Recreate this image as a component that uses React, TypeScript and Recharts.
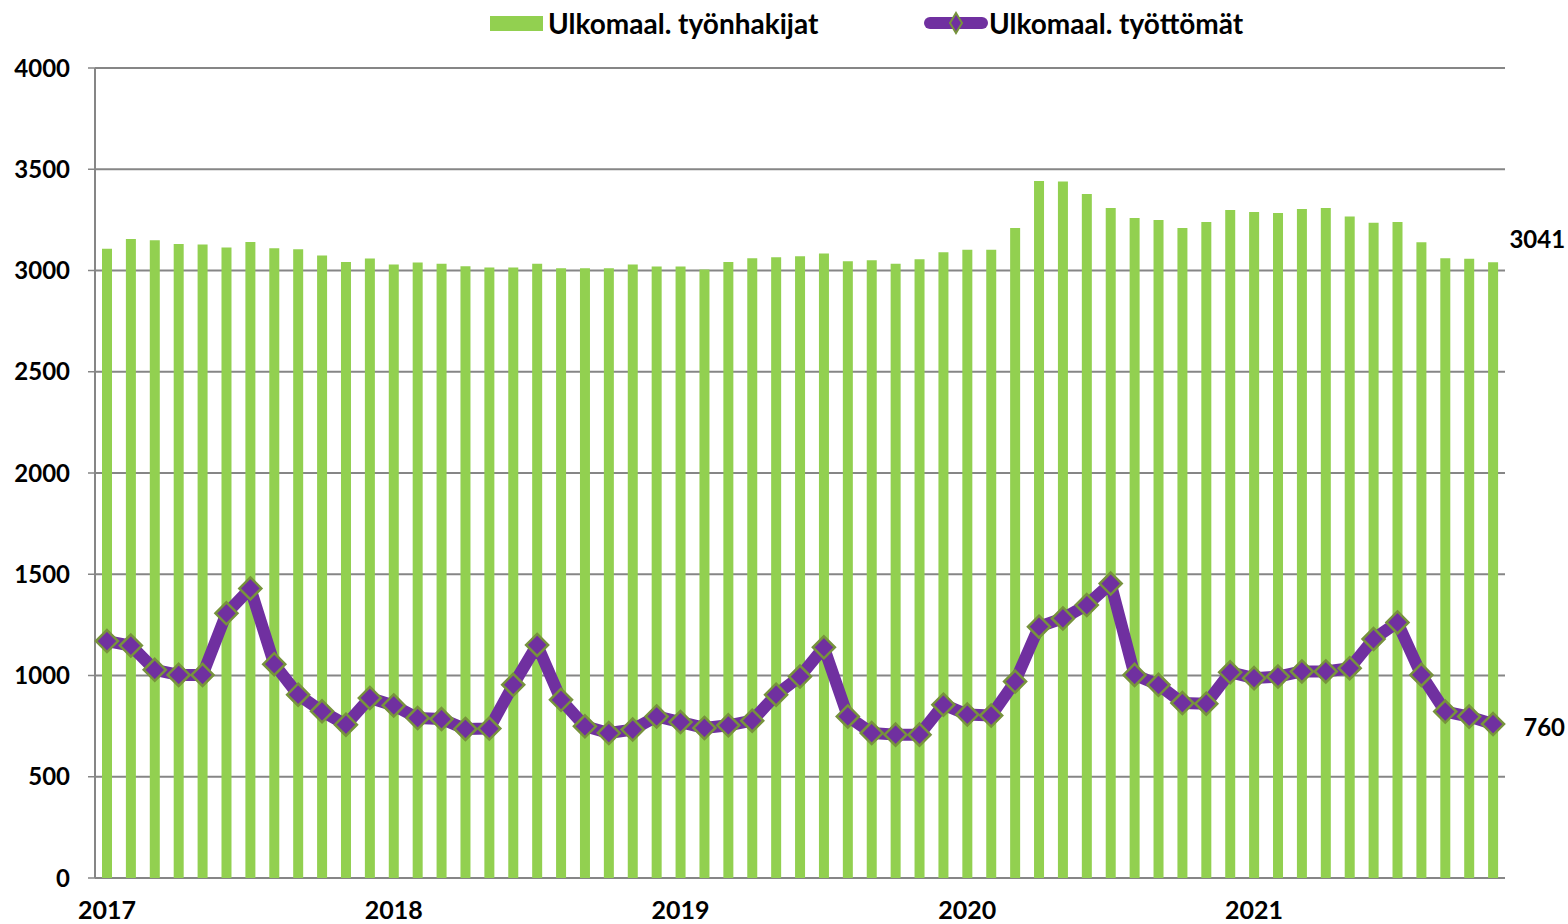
import React from 'react';
import { ComposedChart, Bar, Line, XAxis, YAxis, CartesianGrid, ReferenceLine, LabelList } from 'recharts';

// kuukaudet 1/2017 - 11/2021
const months = [
  '2017-01', '2017-02', '2017-03', '2017-04', '2017-05', '2017-06', '2017-07', '2017-08', '2017-09', '2017-10', '2017-11', '2017-12',
  '2018-01', '2018-02', '2018-03', '2018-04', '2018-05', '2018-06', '2018-07', '2018-08', '2018-09', '2018-10', '2018-11', '2018-12',
  '2019-01', '2019-02', '2019-03', '2019-04', '2019-05', '2019-06', '2019-07', '2019-08', '2019-09', '2019-10', '2019-11', '2019-12',
  '2020-01', '2020-02', '2020-03', '2020-04', '2020-05', '2020-06', '2020-07', '2020-08', '2020-09', '2020-10', '2020-11', '2020-12',
  '2021-01', '2021-02', '2021-03', '2021-04', '2021-05', '2021-06', '2021-07', '2021-08', '2021-09', '2021-10', '2021-11',
];

// Ulkomaal. työnhakijat
const jobSeekers = [
  3108, 3156, 3149, 3131, 3128, 3113, 3141, 3110, 3105, 3074, 3042, 3059,
  3030, 3039, 3033, 3021, 3015, 3015, 3033, 3011, 3011, 3011, 3030, 3020,
  3020, 3005, 3042, 3061, 3066, 3070, 3084, 3046, 3051, 3033, 3056, 3090,
  3103, 3103, 3210, 3442, 3439, 3378, 3309, 3259, 3249, 3210, 3239, 3299,
  3289, 3284, 3304, 3309, 3267, 3236, 3239, 3139, 3061, 3058, 3041,
];

// Ulkomaal. työttömät
const unemployed = [
  1170, 1148, 1028, 1003, 1003, 1307, 1430, 1056, 905, 823, 757, 889,
  852, 790, 785, 736, 738, 954, 1151, 880, 749, 716, 733, 798,
  770, 741, 754, 777, 905, 995, 1139, 798, 716, 708, 708, 856,
  807, 802, 970, 1241, 1282, 1348, 1454, 1003, 954, 864, 861, 1016,
  987, 995, 1020, 1020, 1036, 1180, 1262, 1003, 822, 797, 760,
];

const yTicks = [0, 500, 1000, 1500, 2000, 2500, 3000, 3500, 4000];
const seriesNames = ['Ulkomaal. työnhakijat', 'Ulkomaal. työttömät'];

const data = months.map((m, i) => ({ month: m, seekers: jobSeekers[i], unemployed: unemployed[i] }));
// kuukausien rajat pikkuviivoille
const monthEdges = [...months.map((_, i) => i), months.length];

const AXIS = '#868686';
const GREEN = '#92D050';
const PURPLE = '#7030A0';
const OLIVE = '#77933C';
const FONT = 'Lato, "Liberation Sans", sans-serif';

const Diamond = (props: any) => {
  const { cx, cy } = props;
  if (cx == null || cy == null) return null;
  const r = 11;
  return (
    <path
      d={`M${cx},${cy - r} L${cx + r},${cy} L${cx},${cy + r} L${cx - r},${cy} Z`}
      fill={PURPLE}
      stroke={OLIVE}
      strokeWidth={2.5}
    />
  );
};

const last = months.length - 1;

const BarEndLabel = (props: any) => {
  const { x, y, width, index, value } = props;
  if (index !== last) return null;
  return (
    <text x={x + width / 2 + 72} y={y - 24} textAnchor="end" dominantBaseline="central"
      fontFamily={FONT} fontWeight={700} fontSize={24} fill="#000">
      {value}
    </text>
  );
};

const LineEndLabel = (props: any) => {
  const { x, y, index, value } = props;
  if (index !== last) return null;
  return (
    <text x={x + 72} y={y + 2} textAnchor="end" dominantBaseline="central"
      fontFamily={FONT} fontWeight={700} fontSize={24} fill="#000">
      {value}
    </text>
  );
};

const legendText: React.CSSProperties = {
  position: 'absolute',
  top: 6,
  fontFamily: FONT,
  fontWeight: 700,
  fontSize: 28,
  lineHeight: '34px',
  color: '#000',
  whiteSpace: 'nowrap',
};

export default function App() {
  return (
    <div style={{ position: 'absolute', left: 0, top: 0, width: 1568, height: 924, background: '#fff' }}>
      <ComposedChart width={1568} height={924} data={data} margin={{ top: 68, right: 63, bottom: 6, left: 15 }}>
        <CartesianGrid xAxisId="m" vertical={false} stroke={AXIS} strokeWidth={2} />
        <XAxis
          xAxisId="grid"
          type="number"
          domain={[0, months.length]}
          ticks={monthEdges}
          interval={0}
          height={0}
          tick={false}
          tickSize={7}
          tickLine={{ stroke: AXIS, strokeWidth: 1.5 }}
          axisLine={{ stroke: AXIS, strokeWidth: 2 }}
        />
        <XAxis
          xAxisId="m"
          dataKey="month"
          interval={0}
          height={40}
          tickLine={false}
          axisLine={false}
          tickMargin={17}
          tickFormatter={(v: string) => (v.endsWith('-01') ? v.slice(0, 4) : '')}
          tick={{ fontFamily: FONT, fontWeight: 700, fontSize: 25, fill: '#000' }}
        />
        <YAxis
          width={80}
          domain={[0, 4000]}
          ticks={yTicks}
          interval={0}
          tickSize={7}
          tickMargin={18}
          tickLine={{ stroke: AXIS, strokeWidth: 1.5 }}
          axisLine={{ stroke: AXIS, strokeWidth: 2 }}
          tick={{ fontFamily: FONT, fontWeight: 700, fontSize: 24, fill: '#000' }}
        />
        <ReferenceLine xAxisId="grid" x={months.length} stroke={AXIS} strokeWidth={2} />
        <Bar xAxisId="m" dataKey="seekers" name={seriesNames[0]} fill={GREEN} barSize={10} isAnimationActive={false}>
          <LabelList dataKey="seekers" content={<BarEndLabel />} />
        </Bar>
        <Line
          xAxisId="m"
          type="linear"
          dataKey="unemployed"
          name={seriesNames[1]}
          stroke={PURPLE}
          strokeWidth={12}
          strokeLinejoin="round"
          dot={<Diamond />}
          activeDot={false}
          isAnimationActive={false}
        >
          <LabelList dataKey="unemployed" content={<LineEndLabel />} />
        </Line>
      </ComposedChart>

      {/* selite */}
      <div style={{ position: 'absolute', left: 490, top: 16, width: 53, height: 15, background: GREEN }} />
      <div style={{ ...legendText, left: 548 }}>{seriesNames[0]}</div>
      <svg style={{ position: 'absolute', left: 924, top: 11 }} width={64} height={24}>
        <line x1={6} y1={12} x2={58} y2={12} stroke={PURPLE} strokeWidth={12} strokeLinecap="round" />
        <path d="M32,2 L38,12 L32,22 L26,12 Z" fill={PURPLE} stroke={OLIVE} strokeWidth={2} />
      </svg>
      <div style={{ ...legendText, left: 989 }}>{seriesNames[1]}</div>
    </div>
  );
}
